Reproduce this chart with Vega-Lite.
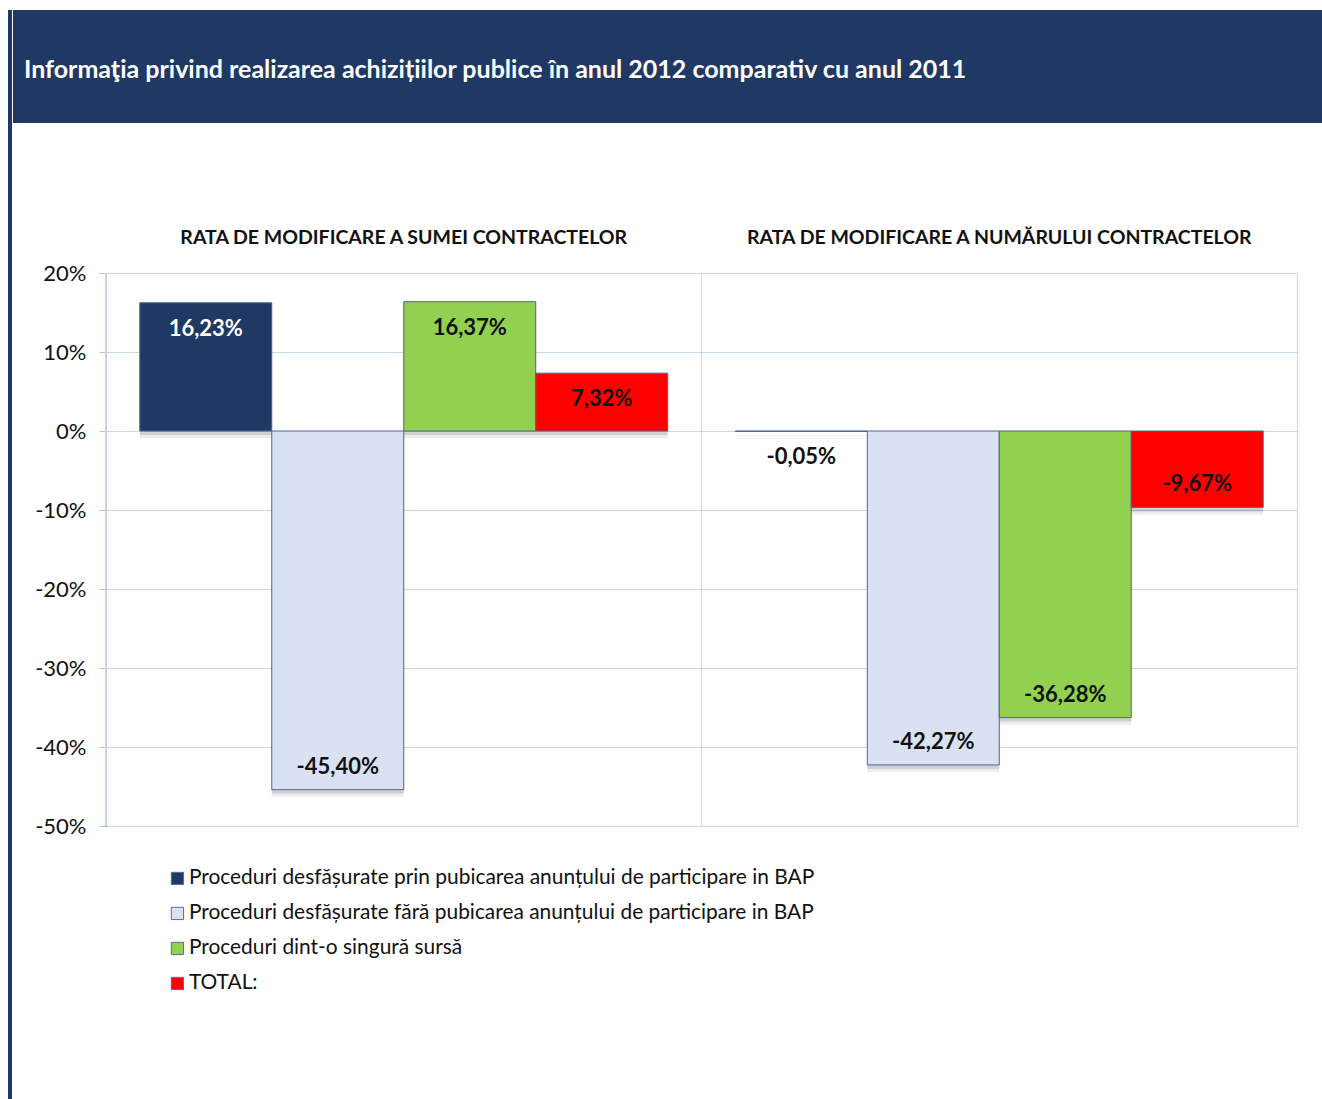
{
  "$schema": "https://vega.github.io/schema/vega-lite/v6.json",
  "padding": {"left": 8, "top": 10, "right": 0, "bottom": 0},
  "background": "white",
  "spacing": 0,
  "datasets": {
    "rates": [
      {"group": "RATA DE MODIFICARE A SUMEI CONTRACTELOR", "series": "Proceduri desfășurate prin pubicarea anunțului de participare in BAP", "value": 0.1623},
      {"group": "RATA DE MODIFICARE A SUMEI CONTRACTELOR", "series": "Proceduri desfășurate fără pubicarea anunțului de participare in BAP", "value": -0.4540},
      {"group": "RATA DE MODIFICARE A SUMEI CONTRACTELOR", "series": "Proceduri dint-o singură sursă", "value": 0.1637},
      {"group": "RATA DE MODIFICARE A SUMEI CONTRACTELOR", "series": "TOTAL:", "value": 0.0732},
      {"group": "RATA DE MODIFICARE A NUMĂRULUI CONTRACTELOR", "series": "Proceduri desfășurate prin pubicarea anunțului de participare in BAP", "value": -0.0005},
      {"group": "RATA DE MODIFICARE A NUMĂRULUI CONTRACTELOR", "series": "Proceduri desfășurate fără pubicarea anunțului de participare in BAP", "value": -0.4227},
      {"group": "RATA DE MODIFICARE A NUMĂRULUI CONTRACTELOR", "series": "Proceduri dint-o singură sursă", "value": -0.3628},
      {"group": "RATA DE MODIFICARE A NUMĂRULUI CONTRACTELOR", "series": "TOTAL:", "value": -0.0967}
    ]
  },
  "hconcat": [
    {
      "width": 4,
      "height": 1089,
      "view": {"fill": "#203864", "stroke": null},
      "data": {"values": []},
      "mark": "point",
      "encoding": {}
    },
    {
      "concat": [
        {
          "width": 1310,
          "height": 113,
          "view": {"fill": "#203864", "stroke": null},
          "data": {"values": [{"t": "Informaţia privind realizarea achizițiilor publice în anul 2012 comparativ cu anul 2011"}]},
          "mark": {"type": "text", "align": "left", "baseline": "middle", "dx": -82, "dy": 3, "color": "white", "font": "Lato", "fontWeight": "bold", "fontSize": 25},
          "encoding": {
            "x": {"datum": 0, "type": "quantitative", "scale": {"domain": [0, 1]}, "axis": null},
            "y": {"datum": 0.5, "type": "quantitative", "scale": {"domain": [0, 1]}, "axis": {"title": null, "labels": false, "ticks": false, "grid": false, "domain": true, "domainColor": "#203864", "domainWidth": 186, "domainCap": "butt", "translate": 0}},
            "text": {"field": "t"}
          }
        },
        {
          "width": 1191,
          "height": 553,
          "view": {"stroke": "#C9D6EE", "strokeWidth": 1},
          "data": {"name": "rates"},
          "encoding": {
            "x": {
              "field": "group", "type": "nominal", "sort": null,
              "scale": {"paddingInner": 0, "paddingOuter": 0},
              "axis": {"orient": "top", "title": null, "ticks": false, "domain": false, "grid": false, "labelAngle": 0, "labelPadding": 26, "labelFontSize": 19.5, "labelFontWeight": "bold", "labelColor": "#111111", "labelLimit": 1000, "minExtent": 149}
            }
          },
          "layer": [
            {
              "mark": {"type": "rule", "color": "#C9D6EE", "strokeWidth": 1},
              "encoding": {
                "x": {"field": "group", "type": "nominal", "sort": null, "bandPosition": 0}
              }
            },
            {
              "mark": {"type": "bar", "color": "#000000", "opacity": 0.07, "xOffset": 7, "x2Offset": 7, "yOffset": 7, "y2Offset": 7},
              "encoding": {
                "xOffset": {"field": "series", "type": "nominal", "scale": {"domain": ["Proceduri desfășurate prin pubicarea anunțului de participare in BAP", "Proceduri desfășurate fără pubicarea anunțului de participare in BAP", "Proceduri dint-o singură sursă", "TOTAL:"], "paddingInner": 0, "paddingOuter": 0.256}},
                "y": {"field": "value", "type": "quantitative"}
              }
            },
            {
              "mark": {"type": "bar", "color": "#000000", "opacity": 0.12, "xOffset": 4, "x2Offset": 4, "yOffset": 4, "y2Offset": 4},
              "encoding": {
                "xOffset": {"field": "series", "type": "nominal"},
                "y": {"field": "value", "type": "quantitative"}
              }
            },
            {
              "mark": {"type": "bar", "stroke": "#4F6592", "strokeWidth": 1},
              "encoding": {
                "xOffset": {"field": "series", "type": "nominal"},
                "y": {
                  "field": "value", "type": "quantitative",
                  "scale": {"domain": [-0.5, 0.2], "nice": false, "zero": false},
                  "axis": {"title": null, "values": [-0.5, -0.4, -0.3, -0.2, -0.1, 0, 0.1, 0.2], "format": ".0%", "grid": true, "gridColor": "#C9D6EE", "domainColor": "#4F6592", "tickColor": "#B4C3E0", "tickSize": 7, "labelPadding": 13, "labelFontSize": 22, "labelColor": "#111111", "minExtent": 93}
                },
                "color": {
                  "field": "series", "type": "nominal",
                  "scale": {"domain": ["Proceduri desfășurate prin pubicarea anunțului de participare in BAP", "Proceduri desfășurate fără pubicarea anunțului de participare in BAP", "Proceduri dint-o singură sursă", "TOTAL:"], "range": ["#203864", "#D9E1F2", "#92D050", "#FF0000"]},
                  "legend": {"orient": "none", "legendX": 159, "legendY": 858, "title": null, "direction": "vertical", "symbolType": "square", "symbolSize": 150, "symbolStrokeColor": "#5B6B8F", "symbolStrokeWidth": 1, "labelFontSize": 20.9, "labelColor": "#111111", "labelOffset": 1, "rowPadding": 13, "labelLimit": 1000, "padding": 0}
                }
              }
            },
            {
              "mark": {"type": "rule", "color": "#2E4272", "strokeWidth": 1.5},
              "encoding": {"y": {"datum": 0, "type": "quantitative"}}
            },
            {
              "transform": [{"filter": "datum.value > -0.01"}],
              "mark": {"type": "text", "baseline": "middle", "align": "center", "dy": 26, "fontWeight": "bold", "fontSize": 22},
              "encoding": {
                "xOffset": {"field": "series", "type": "nominal"},
                "y": {"field": "value", "type": "quantitative"},
                "text": {"field": "value", "type": "quantitative", "format": ".2%"},
                "color": {"condition": {"test": "datum.series === 'Proceduri desfășurate prin pubicarea anunțului de participare in BAP' && datum.value > 0", "value": "white"}, "value": "#111111"}
              }
            },
            {
              "transform": [{"filter": "datum.value <= -0.01"}],
              "mark": {"type": "text", "baseline": "middle", "align": "center", "dy": -23, "fontWeight": "bold", "fontSize": 22, "color": "#111111"},
              "encoding": {
                "xOffset": {"field": "series", "type": "nominal"},
                "y": {"field": "value", "type": "quantitative"},
                "text": {"field": "value", "type": "quantitative", "format": ".2%"}
              }
            }
          ]
        }
      ],
      "columns": 1,
      "spacing": 0
    }
  ],
  "config": {
    "font": "Lato",
    "locale": {"number": {"decimal": ",", "thousands": ".", "grouping": [3], "currency": ["", " lei"], "minus": "-"}},
    "concat": {"spacing": 0},
    "view": {"continuousWidth": 300}
  }
}
